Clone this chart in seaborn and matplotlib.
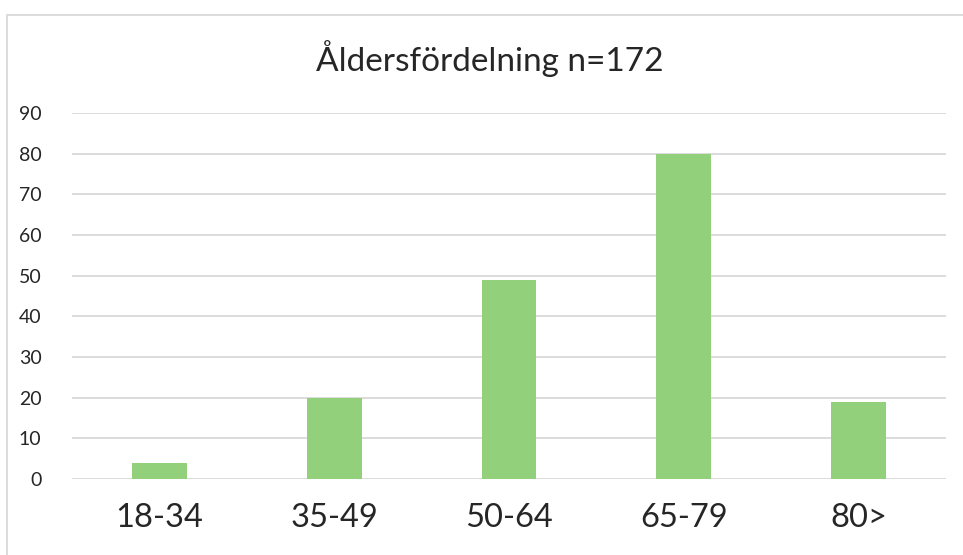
import matplotlib
matplotlib.use('Agg')
import matplotlib.pyplot as plt
import matplotlib.patches as mpatches
import pandas as pd
import seaborn as sns

# age groups and counts (n=172)
age_groups = ['18-34', '35-49', '50-64', '65-79', '80>']
counts = [4, 20, 49, 80, 19]
title = 'Åldersfördelning n=172'

df = pd.DataFrame({'age': age_groups, 'count': counts})

sns.set_style('white')
plt.rcParams['font.family'] = ['Lato', 'DejaVu Sans']

fig = plt.figure(figsize=(9.63, 5.55), dpi=100)
ax = fig.add_axes([0.0748, 0.1369, 0.9075, 0.6595])

sns.barplot(x='age', y='count', data=df, color='#92D07B', width=0.314,
            saturation=1, linewidth=0, ax=ax, zorder=3)

ax.set_ylim(0, 90)
ax.set_yticks(range(0, 91, 10))
ax.set_xlim(-0.5, 4.5)
ax.yaxis.grid(True, color='#D9D9D9', linewidth=1.3, zorder=0)
ax.set_axisbelow(True)
for s in ax.spines.values():
    s.set_visible(False)
ax.tick_params(axis='y', labelsize=14, length=0, pad=22)
ax.tick_params(axis='x', labelsize=23.5, length=0, pad=17)
ax.set_xlabel('')
ax.set_ylabel('')

fig.text(0.509, 0.894, title, ha='center', va='center', fontsize=24)

# outer chart border
fig.patches.append(mpatches.Rectangle((7 / 963, -0.1), 1.2, 1 - 15 / 555 + 0.1,
                                      transform=fig.transFigure, fill=False,
                                      edgecolor='#D9D9D9', linewidth=1.3))

fig.savefig('out.png', dpi=100)
